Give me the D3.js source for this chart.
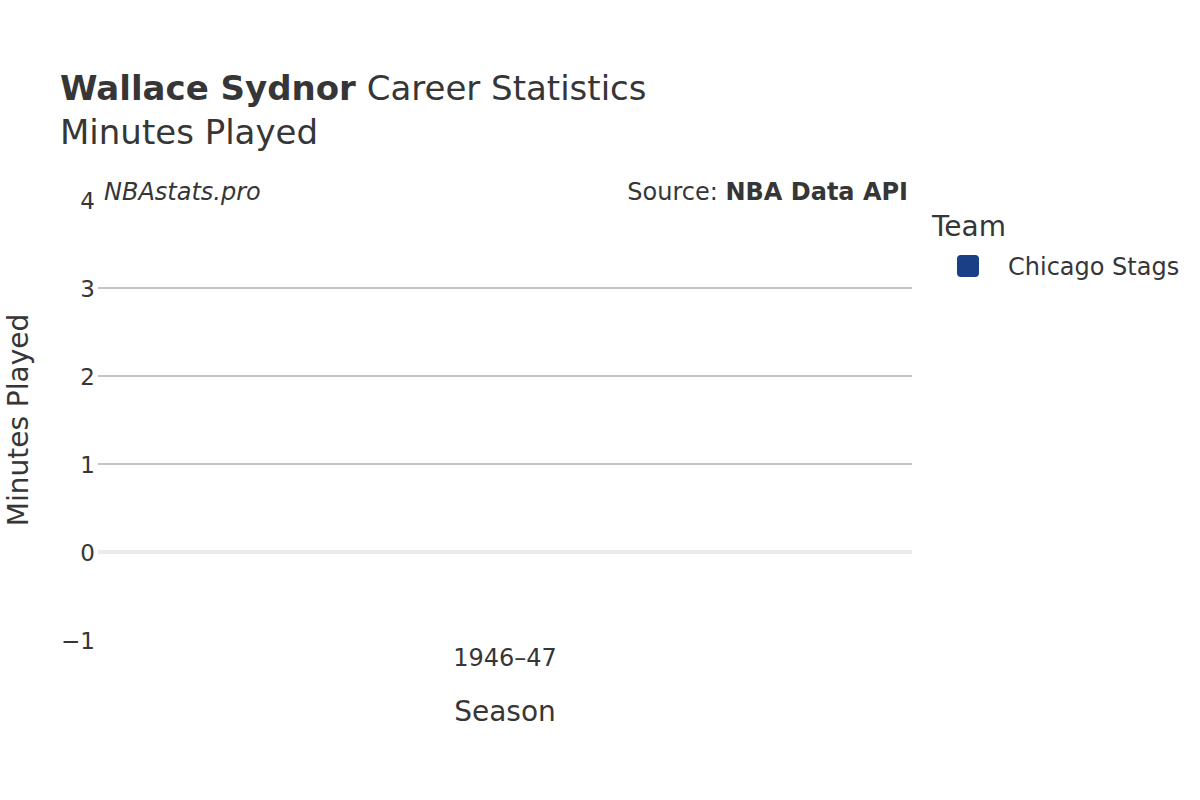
<!DOCTYPE html>
<html>
<head>
<meta charset="utf-8">
<script src="https://cdn.jsdelivr.net/npm/d3@7"></script>
<style>
  body { margin: 0; background: #fff; }
  text { font-family: "DejaVu Sans", sans-serif; fill: #363636; }
</style>
</head>
<body>
<div id="chart"></div>
<script>
// data
var seasons = ["1946\u201347"];
var teams = ["Chicago Stags"];
var teamColors = ["#1b3f86"];
var minutesPlayed = [0];
var yTicks = [-1, 0, 1, 2, 3, 4];

var width = 1200, height = 800;
var margin = {top: 200, right: 288, bottom: 160, left: 98};
var plotW = width - margin.left - margin.right,
    plotH = height - margin.top - margin.bottom;

var svg = d3.select("#chart")
  .append("svg")
    .attr("width", width)
    .attr("height", height);

// titles
var title = svg.append("text")
  .attr("x", 60)
  .attr("y", 100)
  .style("font-size", "34px");
title.append("tspan").style("font-weight", "bold").text("Wallace Sydnor");
title.append("tspan").text(" Career Statistics");

svg.append("text")
  .attr("x", 60)
  .attr("y", 144)
  .style("font-size", "34px")
  .text("Minutes Played");

var g = svg.append("g")
  .attr("transform", "translate(" + margin.left + "," + margin.top + ")");

// scales
var x = d3.scaleBand()
  .domain(seasons)
  .range([0, plotW])
  .padding(0.2);

var y = d3.scaleLinear()
  .domain([-1, 4])
  .range([plotH, 0]);

// gridlines
g.append("g")
  .selectAll("line")
  .data(yTicks.filter(function (d) { return d > 0 && d < 4; }))
  .enter()
  .append("line")
    .attr("x1", 0)
    .attr("x2", plotW)
    .attr("y1", function (d) { return y(d); })
    .attr("y2", function (d) { return y(d); })
    .style("stroke", "#c4c4c4")
    .style("stroke-width", 2);

// zero line
g.append("line")
  .attr("x1", 0)
  .attr("x2", plotW)
  .attr("y1", y(0))
  .attr("y2", y(0))
  .style("stroke", "#ebebeb")
  .style("stroke-width", 4);

// Y axis
var yAxis = g.append("g")
  .call(d3.axisLeft(y).tickValues(yTicks).tickSize(0).tickPadding(3)
    .tickFormat(function (d) { return d < 0 ? "\u2212" + Math.abs(d) : d; }));
yAxis.select(".domain").remove();
yAxis.selectAll("text")
  .style("font-size", "23px")
  .style("font-family", "DejaVu Sans, sans-serif")
  .attr("fill", "#363636")
  .attr("dy", "0.35em");

// X axis
var xAxis = g.append("g")
  .attr("transform", "translate(0," + plotH + ")")
  .call(d3.axisBottom(x).tickSize(0).tickPadding(9));
xAxis.select(".domain").remove();
xAxis.selectAll("text")
  .style("font-size", "24px")
  .style("font-family", "DejaVu Sans, sans-serif")
  .attr("fill", "#363636");

// bars
g.append("g")
  .selectAll("rect")
  .data(minutesPlayed)
  .enter()
  .append("rect")
    .attr("x", function (d, i) { return x(seasons[i]); })
    .attr("width", x.bandwidth())
    .attr("y", function (d) { return y(Math.max(0, d)); })
    .attr("height", function (d) { return Math.abs(y(d) - y(0)); })
    .style("fill", teamColors[0]);

// axis titles
svg.append("text")
  .attr("x", margin.left + plotW / 2)
  .attr("y", 721)
  .attr("text-anchor", "middle")
  .style("font-size", "28px")
  .text("Season");

svg.append("text")
  .attr("transform", "translate(28," + (margin.top + plotH / 2) + ") rotate(-90)")
  .attr("text-anchor", "middle")
  .style("font-size", "28px")
  .text("Minutes Played");

// watermark and source
svg.append("text")
  .attr("x", 104)
  .attr("y", 200)
  .style("font-size", "24px")
  .style("font-style", "italic")
  .text("NBAstats.pro");

var src = svg.append("text")
  .attr("x", 908)
  .attr("y", 200)
  .attr("text-anchor", "end")
  .style("font-size", "24px");
src.append("tspan").text("Source: ");
src.append("tspan").style("font-weight", "bold").text("NBA Data API");

// legend
svg.append("text")
  .attr("x", 932)
  .attr("y", 236)
  .style("font-size", "28px")
  .text("Team");

var legend = svg.append("g")
  .selectAll("g")
  .data(teams)
  .enter()
  .append("g")
    .attr("transform", function (d, i) { return "translate(957," + (255 + i * 30) + ")"; });
legend.append("rect")
  .attr("width", 22)
  .attr("height", 22)
  .attr("rx", 4)
  .style("fill", function (d, i) { return teamColors[i]; });
legend.append("text")
  .attr("x", 51)
  .attr("y", 20)
  .style("font-size", "24px")
  .text(function (d) { return d; });
</script>
</body>
</html>
